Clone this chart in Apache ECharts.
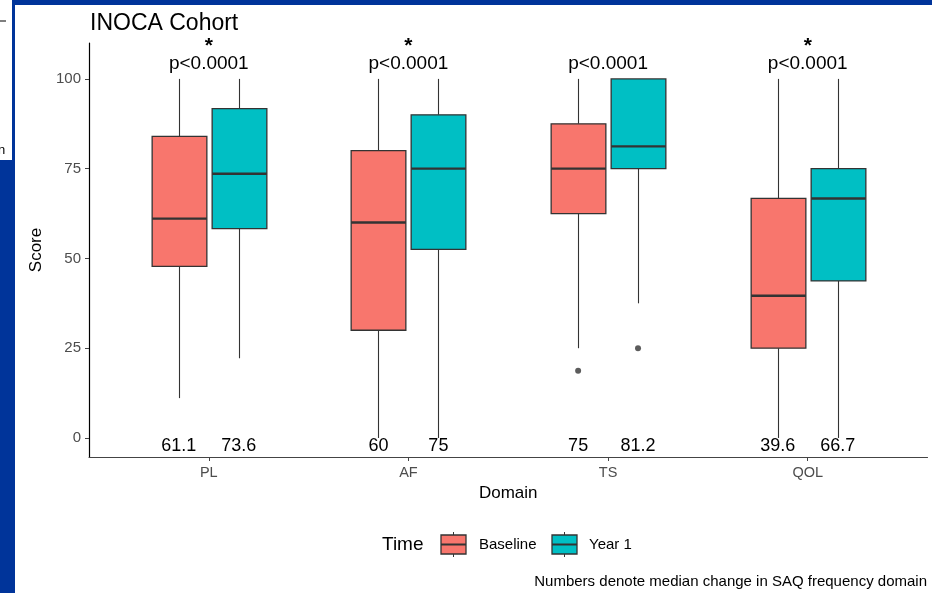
<!DOCTYPE html>
<html>
<head>
<meta charset="utf-8">
<script src="https://cdn.jsdelivr.net/npm/echarts@6/dist/echarts.min.js"></script>
<style>html,body{margin:0;padding:0;background:#fff;}#c{width:932px;height:593px;}</style>
</head>
<body>
<div id="c"></div>
<script>
// ---- data ----
var categories = ['PL', 'AF', 'TS', 'QOL'];
// [lower whisker, Q1, median, Q3, upper whisker]
var baselineBox = [[11.1, 47.8, 61.1, 84, 100], [0, 30, 60, 80, 100], [25, 62.5, 75, 87.5, 100], [0, 25, 39.6, 66.7, 100]];
var year1Box = [[22.2, 58.3, 73.6, 91.7, 100], [0, 52.5, 75, 90, 100], [37.5, 75, 81.2, 100, 100], [0, 43.75, 66.7, 75, 100]];
var baselineOutliers = [[2, 18.75]];
var year1Outliers = [[2, 25]];
var medianLabelsBaseline = ['61.1', '60', '75', '39.6'];
var medianLabelsYear1 = ['73.6', '75', '81.2', '66.7'];
var pLabels = ['p<0.0001', 'p<0.0001', 'p<0.0001', 'p<0.0001'];
var starLabels = ['*', '*', '', '*'];
var yTicks = [0, 25, 50, 75, 100];
var seriesNames = ['Baseline', 'Year 1'];

var colBase = '#F8766D', colYear = '#00BFC4', edge = '#333333';
var FONT = 'Liberation Sans, Arial, sans-serif';
var OFF = 0.15, HALF = 0.137;

function boxSeries(name, boxes, offset, color) {
  return {
    type: 'custom', name: name,
    data: boxes.map(function (b, i) { return [i + 1 + offset].concat(b); }),
    encode: { x: 0, y: [1, 2, 3, 4, 5] },
    renderItem: function (params, api) {
      var x = api.value(0);
      var lo = api.coord([x, api.value(1)]), q1 = api.coord([x, api.value(2)]),
          md = api.coord([x, api.value(3)]), q3 = api.coord([x, api.value(4)]),
          hi = api.coord([x, api.value(5)]);
      var hw = api.size([HALF, 0])[0];
      var cx = Math.round(lo[0]) + 0.5;
      return {
        type: 'group', children: [
          { type: 'line', shape: { x1: cx, y1: hi[1], x2: cx, y2: q3[1] }, style: { stroke: edge, lineWidth: 1.1 } },
          { type: 'line', shape: { x1: cx, y1: q1[1], x2: cx, y2: lo[1] }, style: { stroke: edge, lineWidth: 1.1 } },
          { type: 'rect', shape: { x: cx - hw, y: q3[1], width: 2 * hw, height: q1[1] - q3[1] }, style: { fill: color, stroke: edge, lineWidth: 1.3 } },
          { type: 'line', shape: { x1: cx - hw, y1: md[1], x2: cx + hw, y2: md[1] }, style: { stroke: edge, lineWidth: 2.4 } }
        ]
      };
    },
    z: 2
  };
}

function outlierSeries(pts, offset) {
  return {
    type: 'scatter', silent: true,
    data: pts.map(function (p) { return [p[0] + 1 + offset, p[1]]; }),
    symbol: 'circle', symbolSize: 6, itemStyle: { color: edge }, z: 3
  };
}

function textSeries(labels, xOffset, yVal, fontSize, bold) {
  return {
    type: 'custom', silent: true,
    data: labels.map(function (t, i) { return [i + 1 + xOffset, yVal, t]; }),
    renderItem: function (params, api) {
      var p = api.coord([api.value(0), api.value(1)]);
      var t = labels[params.dataIndex];
      return { type: 'text', x: p[0], y: p[1], style: { text: t, fill: '#000', font: (bold ? 'bold ' : '') + fontSize + 'px ' + FONT, align: 'center', verticalAlign: 'middle' } };
    },
    z: 4
  };
}

var chart = echarts.init(document.getElementById('c'), null, { renderer: 'canvas' });
var blue = '#00349A';
function legendKey(x, y, color) {
  return { type: 'group', x: x, y: y, children: [
    { type: 'line', shape: { x1: 12.5, y1: -3, x2: 12.5, y2: 0 }, style: { stroke: edge, lineWidth: 1 } },
    { type: 'line', shape: { x1: 12.5, y1: 19, x2: 12.5, y2: 22 }, style: { stroke: edge, lineWidth: 1 } },
    { type: 'rect', shape: { x: 0, y: 0, width: 25, height: 19 }, style: { fill: color, stroke: edge, lineWidth: 1.3 } },
    { type: 'line', shape: { x1: 0, y1: 9.5, x2: 25, y2: 9.5 }, style: { stroke: edge, lineWidth: 2 } }
  ] };
}

chart.setOption({
  animation: false,
  backgroundColor: '#ffffff',
  title: { text: 'INOCA Cohort', left: 90, top: 12, padding: 0, textStyle: { fontFamily: FONT, fontSize: 23, fontWeight: 'normal', color: '#000' } },
  grid: { left: 89, right: 4.5, top: 43, bottom: 136 },
  xAxis: {
    type: 'value', min: 0.4, max: 4.6,
    name: 'Domain', nameLocation: 'middle', nameGap: 28,
    nameTextStyle: { fontFamily: FONT, fontSize: 17, color: '#000' },
    axisLine: { show: true, onZero: false, lineStyle: { color: '#444', width: 1.2 } },
    axisTick: { show: true, length: 4, customValues: [1, 2, 3, 4], lineStyle: { color: '#444' } },
    axisLabel: { customValues: [1, 2, 3, 4], formatter: function (v) { return categories[Math.round(v) - 1] || ''; }, color: '#4d4d4d', fontFamily: FONT, fontSize: 14.5, margin: 8 },
    splitLine: { show: false }
  },
  yAxis: {
    type: 'value', min: -5.3, max: 110,
    name: 'Score', nameLocation: 'middle', nameGap: 42, nameRotate: 90,
    nameTextStyle: { fontFamily: FONT, fontSize: 17, color: '#000' },
    axisLine: { show: true, onZero: false, lineStyle: { color: '#000', width: 1.2 } },
    axisTick: { show: true, length: 4, customValues: yTicks, lineStyle: { color: '#444' } },
    axisLabel: { customValues: yTicks, color: '#4d4d4d', fontFamily: FONT, fontSize: 15, margin: 8 },
    splitLine: { show: false }
  },
  series: [
    boxSeries(seriesNames[0], baselineBox, -OFF, colBase),
    boxSeries(seriesNames[1], year1Box, OFF, colYear),
    outlierSeries(baselineOutliers, -OFF),
    outlierSeries(year1Outliers, OFF),
    textSeries(medianLabelsBaseline, -OFF, -2.2, 18, false),
    textSeries(medianLabelsYear1, OFF, -2.2, 18, false),
    textSeries(pLabels, 0, 104.2, 19, false),
    textSeries(starLabels, 0, 109.1, 21, true)
  ],
  graphic: [
    { type: 'rect', shape: { x: 13, y: 0, width: 919, height: 5 }, style: { fill: blue } },
    { type: 'rect', shape: { x: 12, y: 0, width: 3, height: 162 }, style: { fill: blue } },
    { type: 'rect', shape: { x: 0, y: 160, width: 15, height: 433 }, style: { fill: blue } },
    { type: 'line', shape: { x1: 0, y1: 21, x2: 6, y2: 21 }, style: { stroke: '#555', lineWidth: 1.5 } },
    { type: 'text', x: -2, y: 150, style: { text: 'n', font: '13px ' + FONT, fill: '#000', verticalAlign: 'middle' } },
    { type: 'text', x: 382, y: 545, style: { text: 'Time', font: '19px ' + FONT, fill: '#000', verticalAlign: 'middle' } },
    legendKey(441, 535, colBase),
    { type: 'text', x: 479, y: 545, style: { text: 'Baseline', font: '15px ' + FONT, fill: '#000', verticalAlign: 'middle' } },
    legendKey(552, 535, colYear),
    { type: 'text', x: 589, y: 545, style: { text: 'Year 1', font: '15px ' + FONT, fill: '#000', verticalAlign: 'middle' } },
    { type: 'text', x: 927, y: 582, style: { text: 'Numbers denote median change in SAQ frequency domain', font: '15px ' + FONT, fill: '#000', align: 'right', verticalAlign: 'middle' } }
  ]
});
</script>
</body>
</html>
